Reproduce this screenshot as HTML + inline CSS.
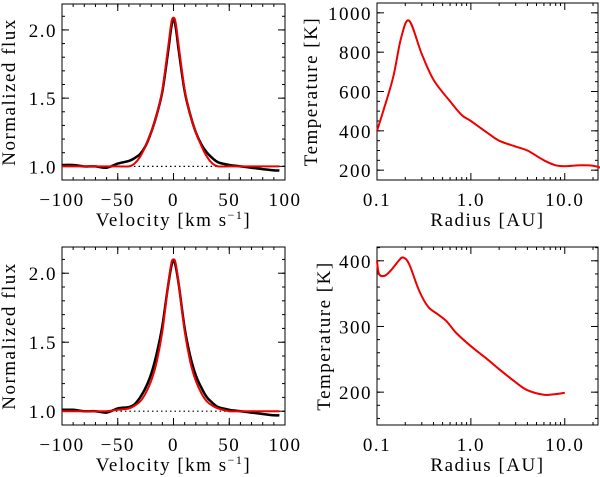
<!DOCTYPE html>
<html><head><meta charset="utf-8"><style>
html,body{margin:0;padding:0;background:#fff;}
svg{display:block;}
text{font-family:"Liberation Serif",serif;font-size:19px;letter-spacing:1.5px;fill:#000;}
</style></head><body>
<svg id="chart" width="600" height="477" viewBox="0 0 600 477"></svg>
<script>
const velTop=[-100,-90,-80,-70,-60,-50,-40,-35,-30,-25,-20,-15,-10,-5,-2,0,2,5,10,15,20,25,30,35,40,50,60,70,80,90,95];
const obsTop=[1.01,1.01,1.0,1.0,0.99,1.02,1.04,1.06,1.09,1.15,1.25,1.38,1.55,1.83,2.02,2.08,2.02,1.83,1.55,1.38,1.25,1.16,1.1,1.06,1.03,1.01,1.0,0.99,0.98,0.97,0.97];
const modTop=[1.0,1.0,1.0,1.0,1.0,1.0,1.0,1.02,1.07,1.15,1.25,1.38,1.56,1.86,2.05,2.09,2.05,1.86,1.56,1.38,1.25,1.15,1.07,1.02,1.0,1.0,1.0,1.0,1.0,1.0,1.0];
const velBot=[-100,-90,-80,-70,-60,-50,-40,-35,-30,-25,-20,-15,-10,-5,-2,0,2,5,10,15,20,25,30,35,40,50,60,70,80,90,95];
const obsBot=[1.01,1.01,1.0,1.0,0.99,1.02,1.03,1.05,1.1,1.17,1.27,1.42,1.62,1.9,2.05,2.09,2.05,1.9,1.6,1.4,1.26,1.17,1.1,1.06,1.03,1.01,1.0,0.99,0.98,0.97,0.97];
const modBot=[1.0,1.0,1.0,1.0,1.0,1.01,1.02,1.04,1.07,1.13,1.22,1.36,1.58,1.9,2.07,2.1,2.07,1.9,1.58,1.36,1.22,1.13,1.07,1.04,1.02,1.0,1.0,1.0,1.0,1.0,1.0];
const radTop=[0.1,0.12,0.15,0.18,0.22,0.3,0.4,0.6,0.8,1.0,1.5,2,3,4,6,8,10,15,20,25];
const tempTop=[400,520,680,870,960,790,660,550,480,450,390,350,320,300,250,225,220,225,222,210];
const radBot=[0.1,0.105,0.12,0.14,0.17,0.19,0.22,0.28,0.35,0.45,0.55,0.7,1.0,1.5,2,3,4,6,8,10];
const tempBot=[400,380,377,385,400,405,395,355,330,318,308,290,270,250,235,215,203,196,197,199];
const velTicks=[-100,-50,0,50,100];
const fluxTicks=[1.0,1.5,2.0];
const radTicks=[0.1,1.0,10.0];
const tempTicksTop=[200,400,600,800,1000];
const tempTicksBot=[200,300,400];

const svg=document.getElementById('chart');
const NS='http://www.w3.org/2000/svg';
function mk(tag,attrs,parent){const e=document.createElementNS(NS,tag);for(const k in attrs)e.setAttribute(k,attrs[k]);(parent||svg).appendChild(e);return e;}

function panel(name,box,xr,yr,xlog,xticks,xfmt,yticks,yfmt,xminor,yminor,xlabel,ylabel){
  const g=mk('g',{});
  
  
  const [L,T,R,B]=box;
  const xs=v=>xlog? L+(Math.log10(v)-Math.log10(xr[0]))/(Math.log10(xr[1])-Math.log10(xr[0]))*(R-L) : L+(v-xr[0])/(xr[1]-xr[0])*(R-L);
  const ys=v=>B-(v-yr[0])/(yr[1]-yr[0])*(B-T);
  const fr=mk('rect',{x:L,y:T,width:R-L,height:B-T,fill:'none',stroke:'#000','stroke-width':1},g);
  
  
  xminor.forEach(v=>{const x=xs(v);mk('line',{x1:x,x2:x,y1:B,y2:B-3,stroke:'#000'},g);mk('line',{x1:x,x2:x,y1:T,y2:T+3,stroke:'#000'},g);});
  yminor.forEach(v=>{const y=ys(v);mk('line',{x1:L,x2:L+3,y1:y,y2:y,stroke:'#000'},g);mk('line',{x1:R,x2:R-3,y1:y,y2:y,stroke:'#000'},g);});
  xticks.forEach(v=>{const x=xs(v);mk('line',{x1:x,x2:x,y1:B,y2:B-7,stroke:'#000'},g);mk('line',{x1:x,x2:x,y1:T,y2:T+7,stroke:'#000'},g);
    const t=mk('text',{x:x,y:B+26,'text-anchor':'middle'},g);t.textContent=xfmt(v);
    
    });
  yticks.forEach(v=>{const y=ys(v);mk('line',{x1:L,x2:L+7,y1:y,y2:y,stroke:'#000'},g);mk('line',{x1:R,x2:R-7,y1:y,y2:y,stroke:'#000'},g);
    const t=mk('text',{x:L-5,y:y+7,'text-anchor':'end'},g);t.textContent=yfmt(v);
    
    });
  const xl=mk('text',{x:(L+R)/2,y:B+46,'text-anchor':'middle'},g);xl.innerHTML=xlabel;
  
  
  const ylx=L-(yticks[yticks.length-1]>=1000?60:47);
  const yl=mk('text',{x:ylx,y:(T+B)/2,'text-anchor':'middle',transform:`rotate(-90 ${ylx} ${(T+B)/2})`},g);yl.textContent=ylabel;
  
  
  return {g,xs,ys};
}
function line(p,xa,ya,color,w,name,dash){
  const P=xa.map((v,i)=>[p.xs(v),p.ys(ya[i])]);
  let d='M'+P[0][0].toFixed(1)+','+P[0][1].toFixed(1);
  for(let i=0;i<P.length-1;i++){
    const p0=P[Math.max(0,i-1)],p1=P[i],p2=P[i+1],p3=P[Math.min(P.length-1,i+2)];
    const c1=[p1[0]+(p2[0]-p0[0])/6,p1[1]+(p2[1]-p0[1])/6];
    const c2=[p2[0]-(p3[0]-p1[0])/6,p2[1]-(p3[1]-p1[1])/6];
    d+='C'+c1[0].toFixed(1)+','+c1[1].toFixed(1)+' '+c2[0].toFixed(1)+','+c2[1].toFixed(1)+' '+p2[0].toFixed(1)+','+p2[1].toFixed(1);
  }
  const e=mk('path',{d:d,fill:'none',stroke:color,'stroke-width':w,'stroke-linejoin':'round'},p.g);
  if(dash)e.setAttribute('stroke-dasharray',dash);
  
  
}
const vfmt=v=>v===0?'0':(v<0?'\u2212'+(-v):String(v));
const ffmt=v=>v.toFixed(1);
const rfmt=v=>v.toFixed(1);
const tfmt=v=>String(v);
const vminor=[];for(let v=-90;v<100;v+=10)vminor.push(v);
const fminor=[];for(let v=1.0;v<=2.2;v+=0.1)fminor.push(+v.toFixed(1));
const rminor=[];[0.1,1,10].forEach(d=>{for(let k=2;k<10;k++){if(d*k<=23)rminor.push(d*k);}});
const tminorTop=[];for(let v=200;v<=1050;v+=50)tminorTop.push(v);
const tminorBot=[];for(let v=160;v<=420;v+=20)tminorBot.push(v);
const vlabel='Velocity [km s<tspan dy="-7" font-size="12">\u22121</tspan><tspan dy="7">]</tspan>';

const p1=panel('flux-panel-top',[62,4,285,180],[-100,100],[0.9,2.19],false,velTicks,vfmt,fluxTicks,ffmt,vminor,fminor,vlabel,'Normalized flux');
line(p1,[-100,100],[1,1],'#000',1.2,'continuum-line','1.5,3');
line(p1,velTop,obsTop,'#000',2.5,'observed-profile');
line(p1,velTop,modTop,'#e00',2,'model-profile');

const p2=panel('temperature-panel-top',[377,3,598,180],[0.1,22.6],[150,1050],true,radTicks,rfmt,tempTicksTop,tfmt,rminor,tminorTop,'Radius [AU]','Temperature [K]');
line(p2,radTop,tempTop,'#e00',2,'temperature-curve');

const p3=panel('flux-panel-bottom',[62,247,285,425],[-100,100],[0.9,2.19],false,velTicks,vfmt,fluxTicks,ffmt,vminor,fminor,vlabel,'Normalized flux');
line(p3,[-100,100],[1,1],'#000',1.2,'continuum-line','1.5,3');
line(p3,velBot,obsBot,'#000',2.5,'observed-profile');
line(p3,velBot,modBot,'#e00',2,'model-profile');

const p4=panel('temperature-panel-bottom',[377,247,598,425],[0.1,22.6],[150,421],true,radTicks,rfmt,tempTicksBot,tfmt,rminor,tminorBot,'Radius [AU]','Temperature [K]');
line(p4,radBot,tempBot,'#e00',2,'temperature-curve');
</script>
</body></html>
